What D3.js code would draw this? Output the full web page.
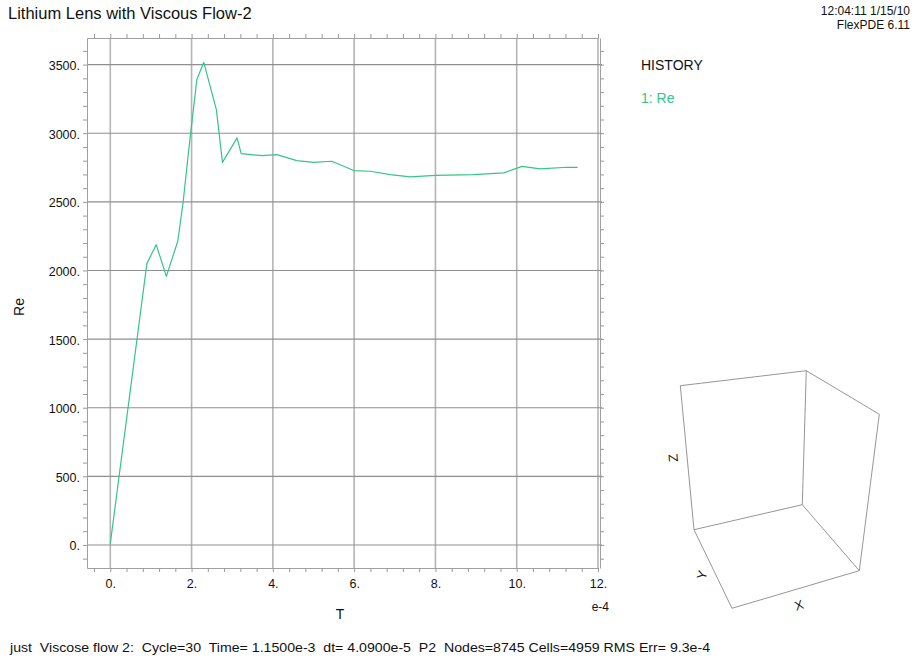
<!DOCTYPE html>
<html>
<head>
<meta charset="utf-8">
<script src="https://cdn.jsdelivr.net/npm/d3@7"></script>
<style>
  html, body { margin: 0; padding: 0; background: #fff; }
  svg { display: block; font-family: "Liberation Sans", Arial, sans-serif; }
</style>
</head>
<body>
<svg id="chart" width="917" height="660"></svg>
<script>
// History of Reynolds number vs time (T in units of 1e-4)
const timeT = [0, 0.90, 1.13, 1.38, 1.66, 1.79, 1.93, 2.13, 2.30, 2.61, 2.76, 3.12, 3.22,
  3.73, 4.10, 4.59, 5.00, 5.45, 5.99, 6.40, 6.89, 7.38, 8.00, 8.94, 9.68, 10.13, 10.58, 11.24, 11.50];
const reValues = [10, 2050, 2188, 1957, 2213, 2492, 2880, 3391, 3517, 3172, 2788, 2966, 2851,
  2837, 2844, 2800, 2788, 2796, 2728, 2723, 2698, 2682, 2693, 2698, 2711, 2759, 2740, 2752, 2752];
const xTickValues = [0, 2, 4, 6, 8, 10, 12];
const yTickValues = [0, 500, 1000, 1500, 2000, 2500, 3000, 3500];

const titleText = "Lithium Lens with Viscous Flow-2";
const stampLines = ["12:04:11 1/15/10", "FlexPDE 6.11"];
const footerText = "just  Viscose flow 2:  Cycle=30  Time= 1.1500e-3  dt= 4.0900e-5  P2  Nodes=8745 Cells=4959 RMS Err= 9.3e-4";

const svg = d3.select("#chart");
const lineColor = "#35c48b";

const plot = { left: 87, right: 598, top: 38, bottom: 568 };
const x = d3.scaleLinear().domain([-0.573, 12]).range([plot.left, plot.right]);
const y = d3.scaleLinear().domain([-168, 3694]).range([plot.bottom, plot.top]);

const minorX = d3.range(-0.4, 12.01, 0.4).map(v => +v.toFixed(2));
const minorY = d3.range(-100, 3601, 100);

// gridlines
const grid = svg.append("g");
grid.selectAll("line.v").data(xTickValues).join("line")
  .attr("x1", d => x(d)).attr("x2", d => x(d))
  .attr("y1", plot.top).attr("y2", plot.bottom)
  .attr("stroke", "#b5b5b5").attr("stroke-width", 1.6);
grid.selectAll("line.h").data(yTickValues).join("line")
  .attr("x1", plot.left).attr("x2", plot.right + 4)
  .attr("y1", d => y(d)).attr("y2", d => y(d))
  .attr("stroke", "#8f8f8f").attr("stroke-width", 1.1);

// frame with outward minor ticks
function minorAxis(axisFn, scale, values, transform) {
  const g = svg.append("g").attr("transform", transform)
    .call(axisFn(scale).tickValues(values).tickSize(4).tickSizeOuter(0).tickFormat(""));
  g.select(".domain").attr("stroke", "#a0a0a0");
  g.selectAll(".tick line").attr("stroke", "#9a9a9a");
  return g;
}
minorAxis(d3.axisLeft, y, minorY, `translate(${plot.left},0)`);
minorAxis(d3.axisRight, y, minorY, `translate(${plot.right + 2},0)`);
minorAxis(d3.axisTop, x, minorX, `translate(0,${plot.top})`);
minorAxis(d3.axisBottom, x, minorX, `translate(0,${plot.bottom})`);

// tick labels
const yLab = svg.append("g").attr("transform", `translate(${plot.left - 7},0)`)
  .call(d3.axisLeft(y).tickValues(yTickValues).tickSize(0).tickPadding(0).tickFormat(d => d + "."));
yLab.select(".domain").remove();
yLab.selectAll("text").attr("font-size", 12.5).attr("fill", "#111")
  .attr("font-family", "Liberation Sans, Arial, sans-serif").attr("dy", "0.4em");

const xLab = svg.append("g").attr("transform", `translate(0,${plot.bottom + 9})`)
  .call(d3.axisBottom(x).tickValues(xTickValues).tickSize(0).tickPadding(0).tickFormat(d => d + "."));
xLab.select(".domain").remove();
xLab.selectAll("text").attr("font-size", 12.5).attr("fill", "#111")
  .attr("font-family", "Liberation Sans, Arial, sans-serif").attr("dy", "0.9em");

// data line
const line = d3.line().x((d, i) => x(timeT[i])).y(d => y(d));
svg.append("path").datum(reValues)
  .attr("d", line).attr("fill", "none")
  .attr("stroke", lineColor).attr("stroke-width", 1.2).attr("stroke-linejoin", "round");

// axis titles
svg.append("text").attr("x", x(5.65)).attr("y", 619).attr("text-anchor", "middle")
  .attr("font-size", 14).attr("fill", "#111").text("T");
svg.append("text").attr("x", 609).attr("y", 611).attr("text-anchor", "end")
  .attr("font-size", 12).attr("fill", "#111").text("e-4");
svg.append("text").attr("transform", "translate(24,307) rotate(-90)").attr("text-anchor", "middle")
  .attr("font-size", 14).attr("fill", "#111").text("Re");

// headings
svg.append("text").attr("x", 8).attr("y", 19).attr("font-size", 16.5).attr("fill", "#111").text(titleText);
svg.append("g").selectAll("text").data(stampLines).join("text")
  .attr("x", 910).attr("y", (d, i) => 14.5 + i * 14).attr("text-anchor", "end")
  .attr("font-size", 12).attr("fill", "#111").text(d => d);

// legend
svg.append("text").attr("x", 641).attr("y", 70).attr("font-size", 14).attr("fill", "#111").text("HISTORY");
svg.append("text").attr("x", 641).attr("y", 103).attr("font-size", 14).attr("fill", lineColor).text("1: Re");

// footer
const foot = svg.append("text").attr("x", 10).attr("y", 652).attr("font-size", 13.5).attr("fill", "#111")
  .attr("xml:space", "preserve").style("white-space", "pre").text(footerText);
foot.attr("textLength", 700).attr("lengthAdjust", "spacingAndGlyphs");

// orientation box (3D frame)
const boxPts = {
  A: [680.3, 385.7], B: [806.3, 370.7], C: [879.3, 414.3], D: [802.3, 504.7],
  E: [694, 529.7], F: [859.3, 570.7], G: [732, 608.3]
};
const boxEdges = [["A","B"],["B","C"],["A","E"],["B","D"],["C","F"],["E","D"],["D","F"],["E","G"],["G","F"]];
svg.append("g").selectAll("line").data(boxEdges).join("line")
  .attr("x1", d => boxPts[d[0]][0]).attr("y1", d => boxPts[d[0]][1])
  .attr("x2", d => boxPts[d[1]][0]).attr("y2", d => boxPts[d[1]][1])
  .attr("stroke", "#8a8a8a").attr("stroke-width", 0.9);
svg.append("text").attr("transform", "translate(673,458) rotate(-95)").attr("text-anchor", "middle")
  .attr("dy", "0.35em").attr("font-size", 13).attr("fill", "#222").text("Z");
svg.append("text").attr("transform", "translate(702,575) rotate(-75)").attr("text-anchor", "middle")
  .attr("dy", "0.35em").attr("font-size", 13).attr("fill", "#222").text("Y");
svg.append("text").attr("transform", "translate(799,605) rotate(-18)").attr("text-anchor", "middle")
  .attr("dy", "0.35em").attr("font-size", 13).attr("fill", "#222").text("X");
</script>
</body>
</html>
